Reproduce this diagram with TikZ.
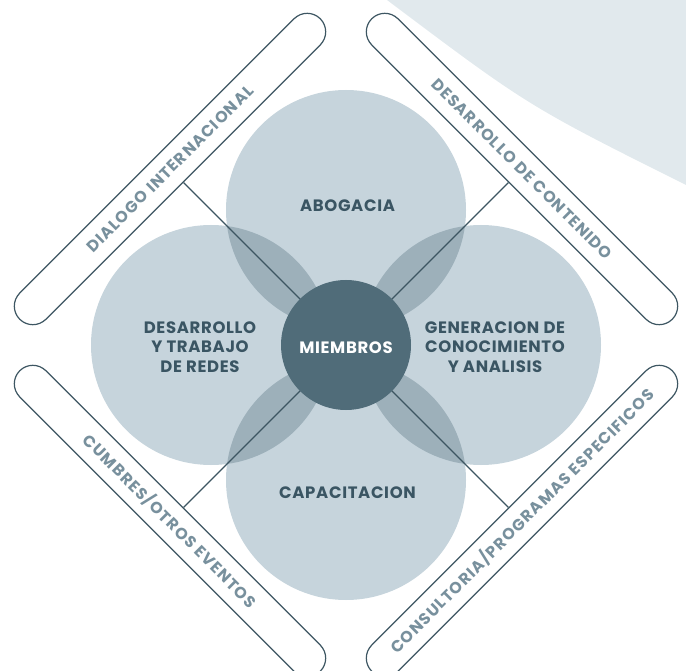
\documentclass[tikz,border=0pt]{standalone}
\usepackage{fontspec}
\setmainfont{Poppins}
\IfFontExistsTF{Poppins Bold}
  {\newfontfamily\lblfont{Poppins Bold}}
  {\newfontfamily\lblfont{Poppins}[FakeBold=2.5]}
\definecolor{bgc}{HTML}{E1E9ED}
\definecolor{circ}{HTML}{C6D4DC}
\definecolor{lens}{HTML}{9DB0BA}
\definecolor{core}{HTML}{506C79}
\definecolor{labc}{HTML}{3A5563}
\definecolor{edge}{HTML}{3D5662}
\definecolor{pilltxt}{HTML}{78909D}
\begin{document}
\begin{tikzpicture}[x=1pt,y=-1pt,
  bigc/.style={circle, fill=circ, minimum size=240pt, inner sep=0pt},
  lab/.style={font=\lblfont\fontsize{16.5}{19.5}\selectfont\addfontfeature{LetterSpace=4}, text=labc, align=center},
  pill/.style={draw=edge, line width=1.2pt, fill=white, rounded corners=18.5pt,
    minimum width=425pt, minimum height=37pt, inner sep=0pt,
    font=\lblfont\fontsize{16}{16}\selectfont\addfontfeature{LetterSpace=7}, text=pilltxt},
  conn/.style={draw=edge, line width=1.1pt}]
\useasboundingbox (0,0) rectangle (686,671);
\clip (0,0) rectangle (686,671);
% background shape
\fill[bgc] (387,0) .. controls (528,106) .. (686,185) -- (686,0) -- cycle;
% pills
\node[pill, rotate=45]  (p1) at (170,169) {DIALOGO INTERNACIONAL};
\node[pill, rotate=-45] (p2) at (522,169) {DESARROLLO DE CONTENIDO};
\node[pill, rotate=-45] (p3) at (170,521) {CUMBRES/OTROS EVENTOS};
\node[pill, rotate=45]  (p4) at (522,521) {CONSULTORIA/PROGRAMAS ESPECIFICOS};
% circles
\coordinate (C) at (346,345);
\node[bigc] (up) at (346,210) {};
\node[bigc] (lt) at (211,345) {};
\node[bigc] (rt) at (481,345) {};
\node[bigc] (dn) at (346,480) {};
% overlaps
\begin{scope}\clip (346,210) circle (120pt); \fill[lens] (211,345) circle (120pt);\end{scope}
\begin{scope}\clip (346,210) circle (120pt); \fill[lens] (481,345) circle (120pt);\end{scope}
\begin{scope}\clip (346,480) circle (120pt); \fill[lens] (211,345) circle (120pt);\end{scope}
\begin{scope}\clip (346,480) circle (120pt); \fill[lens] (481,345) circle (120pt);\end{scope}
% connectors
\draw[conn] (C) -- (p1.south);
\draw[conn] (C) -- (p2.south);
\draw[conn] (C) -- (p3.north);
\draw[conn] (C) -- (p4.north);
% core
\node[circle, fill=core, minimum size=130pt, inner sep=0pt] (core) at (346,345) {};
\node[lab, text=white] (mi) at (346,347.5) {MIEMBROS};
% labels
\node[lab] (la) at (347.5,206) {ABOGACIA};
\node[lab] (lb) at (200,347) {DESARROLLO\\Y TRABAJO\\DE REDES};
\node[lab] (lc) at (495,347) {GENERACION DE\\CONOCIMIENTO\\Y ANALISIS};
\node[lab] (ld) at (347.5,492.5) {CAPACITACION};
\end{tikzpicture}
\end{document}
